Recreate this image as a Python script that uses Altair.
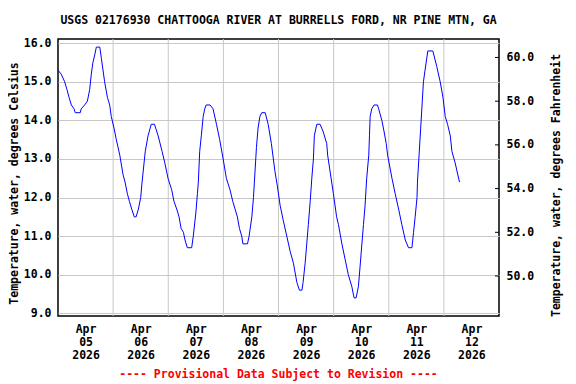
import altair as alt
import pandas as pd

# Hours since 2026-04-05 00:00 and water temperature (deg C)
hours = [0.0, 1.4, 2.9, 3.9, 4.8, 5.8, 7.0, 7.5, 9.7, 10.1, 11.6, 12.8, 13.8, 14.5, 15.2, 16.0,
         16.7, 18.2, 18.9, 20.3, 21.5, 22.5, 23.2, 24.4, 25.4, 26.9, 28.3, 29.2, 30.2, 31.1,
         32.1, 33.2, 34.0, 35.0, 36.0, 36.6, 38.0, 39.2, 40.6, 42.0, 43.6, 45.3, 46.5, 47.9,
         49.5, 50.5, 51.7, 52.7, 53.6, 54.6, 55.3, 56.3, 58.2, 58.9, 60.0, 60.7, 61.1, 61.7,
         62.4, 63.2, 63.9, 64.5, 66.2, 67.5, 69.0, 70.4, 71.9, 73.3, 74.9, 76.1, 77.1, 78.1,
         79.0, 80.0, 80.5, 82.5, 83.2, 84.4, 85.1, 85.5, 86.4, 87.1, 87.9, 88.7, 90.2, 91.5,
         92.9, 94.4, 95.5, 96.7, 98.1, 99.6, 101.1, 102.5, 104.0, 105.1, 106.2, 106.7, 107.6,
         108.3, 109.0, 109.8, 110.5, 111.2, 111.6, 112.3, 112.7, 114.1, 115.5, 117.0, 117.4,
         119.9, 121.3, 122.1, 123.6, 125.0, 126.4, 127.9, 128.9, 129.8, 130.8, 131.5, 132.3,
         133.0, 133.7, 134.4, 135.3, 135.6, 135.9, 136.6, 137.6, 139.1, 139.6, 141.0, 142.0,
         142.9, 143.5, 145.4, 146.8, 148.3, 149.7, 151.2, 152.6, 154.1, 154.8, 155.5, 156.3,
         156.5, 157.9, 158.4, 159.1, 159.8, 161.0, 163.2, 164.9, 166.4, 167.6, 168.6, 169.6,
         170.8, 171.5, 172.9, 174.8]
temps = [15.3, 15.2, 15.0, 14.8, 14.6, 14.4, 14.3, 14.2, 14.2, 14.3, 14.4, 14.5, 14.8, 15.2, 15.5, 15.7,
         15.9, 15.9, 15.6, 15.0, 14.6, 14.4, 14.1, 13.8, 13.5, 13.1, 12.6, 12.4, 12.1, 11.9,
         11.7, 11.5, 11.5, 11.7, 12.0, 12.4, 13.2, 13.6, 13.9, 13.9, 13.6, 13.2, 12.9, 12.5,
         12.2, 11.9, 11.7, 11.5, 11.2, 11.1, 10.9, 10.7, 10.7, 11.0, 11.6, 12.1, 12.4, 13.2,
         13.6, 14.1, 14.3, 14.4, 14.4, 14.3, 13.9, 13.5, 13.0, 12.5, 12.2, 11.9, 11.7, 11.5,
         11.2, 11.0, 10.8, 10.8, 11.0, 11.5, 12.0, 12.4, 13.3, 13.8, 14.1, 14.2, 14.2, 13.9,
         13.4, 12.7, 12.3, 11.8, 11.4, 11.0, 10.6, 10.3, 9.8, 9.6, 9.6, 9.8, 10.3,
         10.8, 11.3, 11.9, 12.5, 13.0, 13.6, 13.8, 13.9, 13.9, 13.7, 13.4, 13.1,
         12.1, 11.5, 11.3, 10.8, 10.4, 10.0, 9.7, 9.4, 9.4, 9.7, 10.2, 10.8,
         11.3, 11.8, 12.5, 13.1, 13.6, 14.1, 14.3, 14.4, 14.4, 14.3, 14.0, 13.7,
         13.4, 13.1, 12.5, 12.1, 11.7, 11.3, 10.9, 10.7, 10.7, 11.1, 11.5, 12.0,
         12.4, 13.8, 14.3, 15.0, 15.3, 15.8, 15.8, 15.4, 15.0, 14.6, 14.1, 13.9,
         13.6, 13.2, 12.9, 12.4]

label_days = [5, 6, 7, 8, 9, 10, 11, 12]      # labels at noon
grid_days = [6, 7, 8, 9, 10, 11, 12]          # vertical grid at midnight
c_ticks = [9.0, 10.0, 11.0, 12.0, 13.0, 14.0, 15.0, 16.0]
f_ticks = [50.0, 52.0, 54.0, 56.0, 58.0, 60.0]
title_text = "USGS 02176930 CHATTOOGA RIVER AT BURRELLS FORD, NR PINE MTN, GA"
footer_text = "---- Provisional Data Subject to Revision ----"

start = pd.Timestamp("2026-04-05")
df = pd.DataFrame({"time": start + pd.to_timedelta(hours, unit="h"), "temp": temps})
grid_df = pd.DataFrame({"time": [start + pd.Timedelta(days=d - 5) for d in grid_days]})
f_df = pd.DataFrame({"f": f_ticks})
foot_df = pd.DataFrame({"t": [footer_text]})
head_df = pd.DataFrame({"t": [title_text]})

W, H = 441, 277
FONT = "DejaVu Sans Mono"
FS = 11.5
GRID = "#c8c8c8"

x_scale = alt.Scale(domain=[alt.DateTime(year=2026, month=4, date=5),
                            alt.DateTime(year=2026, month=4, date=13)])
x_axis = alt.Axis(
    values=[alt.DateTime(year=2026, month=4, date=d, hours=12) for d in label_days],
    labelExpr="[timeFormat(datum.value, '%b'), timeFormat(datum.value, '%d'), timeFormat(datum.value, '%Y')]",
    title=None, grid=False, ticks=False, domain=False,
    labelFont=FONT, labelFontSize=FS, labelFontWeight="bold", labelColor="black",
    labelPadding=7, labelLineHeight=13, labelBaseline="top", labelAngle=0,
)

grid_rules = alt.Chart(grid_df).mark_rule(color=GRID, strokeWidth=1).encode(
    x=alt.X("time:T", scale=x_scale, axis=x_axis)
)

line = alt.Chart(df).mark_line(color="#0000ff", strokeWidth=1).encode(
    x=alt.X("time:T", scale=x_scale, axis=x_axis),
    y=alt.Y("temp:Q", scale=alt.Scale(domain=[8.93, 16.11], nice=False, zero=False),
            axis=alt.Axis(values=c_ticks, format=".1f",
                          title="Temperature, water, degrees Celsius",
                          grid=True, gridColor=GRID, gridWidth=1, ticks=False, domain=False,
                          labelFont=FONT, labelFontSize=FS, labelFontWeight="bold",
                          labelColor="black", labelPadding=7,
                          titleFont=FONT, titleFontSize=FS, titleFontWeight="bold",
                          titleColor="black", titleAngle=270, titleX=-44, titleY=144,
                          titleAlign="center", titleBaseline="middle")),
)

f_axis_layer = alt.Chart(f_df).mark_rule(color="black", strokeWidth=1).encode(
    y=alt.Y("f:Q", scale=alt.Scale(domain=[48.17, 60.845], nice=False, zero=False),
            axis=alt.Axis(orient="right", values=f_ticks, format=".1f",
                          title="Temperature, water, degrees Fahrenheit",
                          grid=False, ticks=False, domain=False,
                          labelFont=FONT, labelFontSize=FS, labelFontWeight="bold",
                          labelColor="black", labelPadding=7,
                          titleFont=FONT, titleFontSize=FS, titleFontWeight="bold",
                          titleColor="black", titleAngle=270, titleX=57, titleY=146,
                          titleAlign="center", titleBaseline="middle")),
    x=alt.value(W - 4),
    x2=alt.value(W),
)

footer = alt.Chart(foot_df).mark_text(
    color="red", font=FONT, fontSize=FS, fontWeight="bold", baseline="middle", align="center"
).encode(text="t:N", x=alt.value(W / 2), y=alt.value(H + 59))

header = alt.Chart(head_df).mark_text(
    color="black", font=FONT, fontSize=FS, fontWeight="bold", baseline="alphabetic", align="center"
).encode(text="t:N", x=alt.value(W / 2), y=alt.value(-15))

chart = alt.layer(grid_rules, line, f_axis_layer, footer, header).resolve_scale(
    y="independent"
).properties(
    width=W, height=H,
    autosize=alt.AutoSizeParams(type="none"),
    padding={"left": 50, "top": 31, "right": 69, "bottom": 68},
).configure_view(stroke="black", strokeWidth=1.5)

chart.save("out.html", embed_options={"renderer": "svg", "actions": False})
